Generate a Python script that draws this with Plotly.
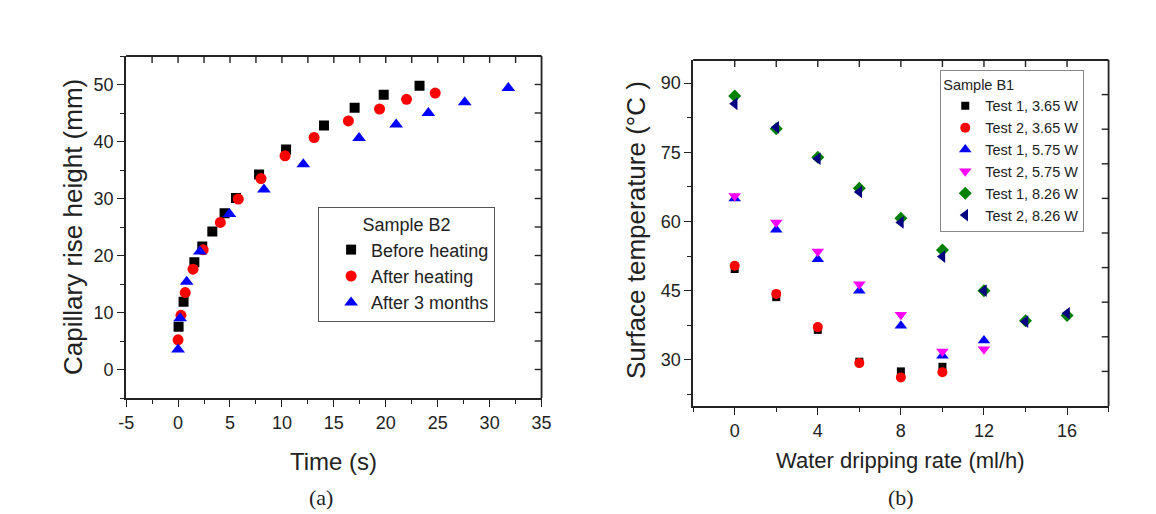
import numpy as np
import plotly.graph_objects as go

# ---------------- data: panel (a) ----------------
before_t = [0.05, 0.53, 1.57, 2.33, 3.3, 4.48, 5.58, 7.8, 10.4, 14.05, 17.0, 19.8, 23.25]
before_h = [7.5, 11.9, 18.8, 21.6, 24.2, 27.4, 30.1, 34.2, 38.6, 42.8, 45.9, 48.2, 49.8]
after_t = [0, 0.28, 0.69, 1.44, 2.42, 4.07, 5.8, 7.99, 10.3, 13.1, 16.4, 19.4, 22.0, 24.76]
after_h = [5.2, 9.5, 13.5, 17.6, 21.0, 25.8, 29.9, 33.5, 37.5, 40.7, 43.6, 45.7, 47.4, 48.5]
months_t = [0, 0.2, 0.83, 2.1, 4.95, 8.27, 12.06, 17.43, 21.0, 24.1, 27.6, 31.8]
months_h = [3.5, 9.0, 15.4, 20.7, 27.3, 31.6, 36.0, 40.6, 43.0, 45.0, 46.9, 49.4]
time_ticks = [-5, 0, 5, 10, 15, 20, 25, 30, 35]
time_ticktext = ["-5", "0", "5", "10", "15", "20", "25", "30", "35"]

# ---------------- data: panel (b) ----------------
rate_365 = [0, 2, 4, 6, 8, 10]
t1_365 = [49.7, 43.6, 36.5, 29.6, 27.5, 28.5]
t2_365 = [50.4, 44.3, 37.1, 29.3, 26.2, 27.3]
rate_575 = [0, 2, 4, 6, 8, 10, 12]
t1_575 = [65.0, 58.2, 51.8, 45.0, 37.4, 30.9, 34.2]
t2_575 = [65.5, 59.8, 53.5, 46.4, 39.8, 31.8, 32.3]
rate_826 = [0, 2, 4, 6, 8, 10, 12, 14, 16]
t1_826 = [87.2, 80.1, 73.9, 67.2, 60.7, 53.8, 45.0, 38.5, 39.6]
t2_826 = [85.5, 80.4, 73.6, 66.4, 59.8, 52.4, 45.0, 38.3, 40.1]

W, H = 1156, 514
FONT = "Liberation Sans, Arial, sans-serif"
INK = "#222"
LW = 1.8

fig = go.Figure()

def sc(x, y, name, sym, color, size, xa, ya, legend):
    fig.add_trace(go.Scatter(
        x=x, y=y, mode="markers", name=name, xaxis=xa, yaxis=ya, legend=legend,
        marker=dict(symbol=sym, color=color, size=size, line=dict(width=0)),
    ))

sc(before_t, before_h, "Before heating", "square", "#000000", 10, "x", "y", "legend")
sc(after_t, after_h, "After heating", "circle", "#ff0000", 11, "x", "y", "legend")
sc(months_t, months_h, "After 3 months", "triangle-up", "#0000ff", 12, "x", "y", "legend")

sc(rate_365, t1_365, "Test 1, 3.65 W", "square", "#000000", 8, "x2", "y2", "legend2")
sc(rate_365, t2_365, "Test 2, 3.65 W", "circle", "#ff0000", 10, "x2", "y2", "legend2")
sc(rate_575, t1_575, "Test 1, 5.75 W", "triangle-up", "#0000ff", 11, "x2", "y2", "legend2")
sc(rate_575, t2_575, "Test 2, 5.75 W", "triangle-down", "#ff00ff", 11, "x2", "y2", "legend2")
sc(rate_826, t1_826, "Test 1, 8.26 W", "diamond", "#008000", 10, "x2", "y2", "legend2")
sc(rate_826, t2_826, "Test 2, 8.26 W", "triangle-left", "#000080", 11, "x2", "y2", "legend2")

tickfont = dict(family=FONT, size=18, color=INK)

def main_axis(domain, rng, dtick, minor_dtick, anchor, tickvals=None, ticktext=None):
    d = dict(domain=domain, range=rng, dtick=dtick, tick0=0, ticks="outside", ticklen=7,
             tickwidth=1.4, tickcolor=INK, showline=True, linecolor=INK, linewidth=LW,
             showgrid=False, zeroline=False, tickfont=tickfont, anchor=anchor,
             minor=dict(dtick=minor_dtick, tick0=0, ticks="outside", ticklen=4,
                        tickwidth=1.4, tickcolor=INK, showgrid=False))
    if tickvals is not None:
        d.update(tickmode="array", tickvals=tickvals, ticktext=ticktext)
    return d

# pixel geometry -> paper domains
ax_dom = [120 / W, 542 / W]
ay_dom = [1 - 398 / H, 1 - 56 / H]
bx_dom = [696 / W, 1118 / W]
by_dom = [1 - 406 / H, 1 - 60 / H]

xa_rng, ya_rng = [-5, 35], [-5, 55]
xb_rng, yb_rng = [-2, 18], [20, 95]

# frame (top/right lines) + inward mirrored ticks, Origin style (paper coordinates)
shapes = []
def frame(xdom, ydom, xrng, yrng, xstep, ystep):
    ln = dict(color=INK, width=LW)
    tk = dict(color=INK, width=1.4)
    shapes.append(dict(type="line", xref="paper", yref="paper",
                       x0=xdom[0], x1=xdom[1], y0=ydom[1], y1=ydom[1], line=ln))
    shapes.append(dict(type="line", xref="paper", yref="paper",
                       x0=xdom[1], x1=xdom[1], y0=ydom[0], y1=ydom[1], line=ln))
    tl_y, tl_x = 7 / H, 7 / W
    for v in np.arange(xrng[0], xrng[1] + 1e-9, xstep)[1:-1]:
        px = xdom[0] + (v - xrng[0]) / (xrng[1] - xrng[0]) * (xdom[1] - xdom[0])
        shapes.append(dict(type="line", xref="paper", yref="paper", x0=px, x1=px,
                           y0=ydom[1], y1=ydom[1] - tl_y, line=tk))
    for v in np.arange(yrng[0], yrng[1] + 1e-9, ystep)[1:-1]:
        py = ydom[0] + (v - yrng[0]) / (yrng[1] - yrng[0]) * (ydom[1] - ydom[0])
        shapes.append(dict(type="line", xref="paper", yref="paper", x0=xdom[1],
                           x1=xdom[1] - tl_x, y0=py, y1=py, line=tk))

frame(ax_dom, ay_dom, xa_rng, ya_rng, 2.5, 5)
frame(bx_dom, by_dom, xb_rng, yb_rng, 2, 7.5)

fig.update_layout(
    width=W, height=H, margin=dict(l=0, r=0, t=0, b=0),
    paper_bgcolor="white", plot_bgcolor="white",
    font=dict(family=FONT, color=INK),
    xaxis=main_axis(ax_dom, xa_rng, 5, 2.5, "y", time_ticks, time_ticktext),
    yaxis=main_axis(ay_dom, ya_rng, 10, 5, "x"),
    xaxis2=main_axis(bx_dom, xb_rng, 4, 2, "y2"),
    yaxis2=main_axis(by_dom, yb_rng, 15, 7.5, "x2"),
    shapes=shapes,
    legend=dict(x=315 / W, y=1 - 207 / H, xanchor="left", yanchor="top",
                bgcolor="white", bordercolor="#555", borderwidth=1,
                font=dict(family=FONT, size=18, color=INK),
                title=dict(text="Sample B2", side="top center",
                           font=dict(family=FONT, size=18, color=INK)),
                indentation=12, tracegroupgap=0),
    legend2=dict(x=947 / W, y=1 - 70 / H, xanchor="left", yanchor="top",
                 bgcolor="white", bordercolor="#888", borderwidth=1,
                 font=dict(family=FONT, size=14.5, color=INK),
                 title=dict(text="Sample B1", font=dict(family=FONT, size=14.5, color=INK)),
                 indentation=4, tracegroupgap=0),
    showlegend=True,
)

serif = dict(family="Liberation Serif, Times New Roman, serif", size=22, color=INK)
annotations = [
    dict(text="Capillary rise height (mm)", x=66 / W, y=1 - 227 / H, textangle=-90,
         font=dict(family=FONT, size=26, color=INK)),
    dict(text="Time (s)", x=331 / W, y=1 - 461 / H, font=dict(family=FONT, size=24, color=INK)),
    dict(text="Surface temperature (°C )", x=638 / W, y=1 - 230 / H, textangle=-90,
         font=dict(family=FONT, size=26, color=INK)),
    dict(text="Water dripping rate (ml/h)", x=907 / W, y=1 - 460 / H,
         font=dict(family=FONT, size=22, color=INK)),
    dict(text="(a)", x=318 / W, y=1 - 497 / H, font=serif),
    dict(text="(b)", x=907 / W, y=1 - 497 / H, font=serif),
]
for a in annotations:
    a.update(xref="paper", yref="paper", showarrow=False, xanchor="center", yanchor="middle")
fig.update_layout(annotations=annotations)

fig.write_html("out.html")
